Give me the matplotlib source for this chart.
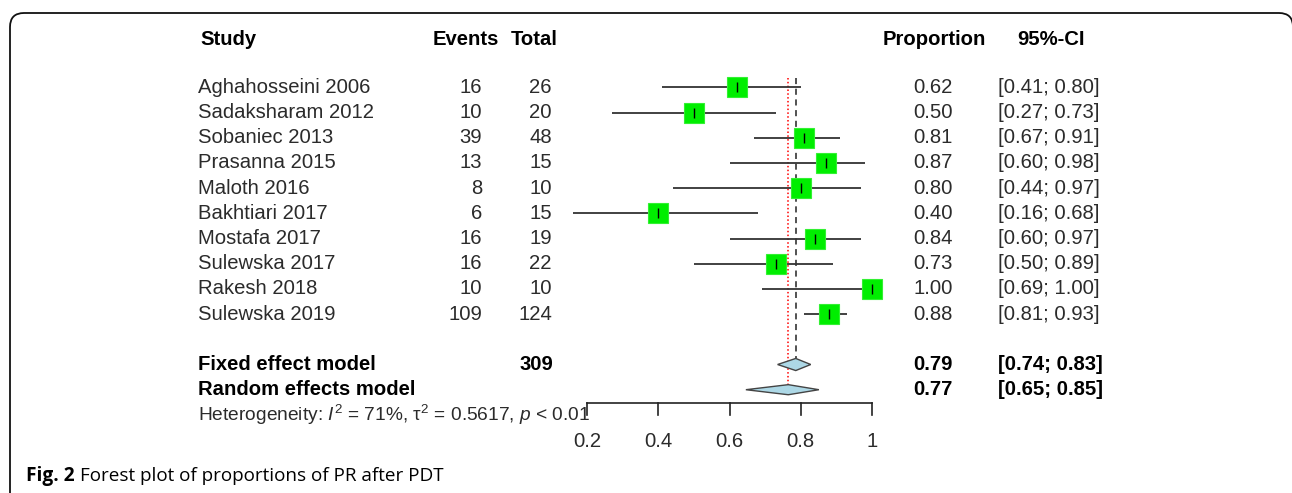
import matplotlib.pyplot as plt
from matplotlib.patches import Polygon, FancyBboxPatch
from matplotlib.transforms import blended_transform_factory

plt.rcParams['font.family'] = ['Liberation Sans', 'DejaVu Sans']
plt.rcParams['mathtext.fontset'] = 'custom'
plt.rcParams['mathtext.rm'] = 'Liberation Sans'
plt.rcParams['mathtext.it'] = 'Liberation Sans:italic'

# study data
studies = ['Aghahosseini 2006', 'Sadaksharam 2012', 'Sobaniec 2013', 'Prasanna 2015',
           'Maloth 2016', 'Bakhtiari 2017', 'Mostafa 2017', 'Sulewska 2017',
           'Rakesh 2018', 'Sulewska 2019']
events = [16, 10, 39, 13, 8, 6, 16, 16, 10, 109]
totals = [26, 20, 48, 15, 10, 15, 19, 22, 10, 124]
prop = [0.62, 0.50, 0.81, 0.87, 0.80, 0.40, 0.84, 0.73, 1.00, 0.88]
lower = [0.41, 0.27, 0.67, 0.60, 0.44, 0.16, 0.60, 0.50, 0.69, 0.81]
upper = [0.80, 0.73, 0.91, 0.98, 0.97, 0.68, 0.97, 0.89, 1.00, 0.93]

fixed_est, fixed_lo, fixed_hi = 0.786, 0.735, 0.828
random_est, random_lo, random_hi = 0.765, 0.646, 0.851
fixed_label = ['0.79', '[0.74; 0.83]']
random_label = ['0.77', '[0.65; 0.85]']
total_n = 309

ticks = [0.2, 0.4, 0.6, 0.8, 1.0]
tick_labels = ['0.2', '0.4', '0.6', '0.8', '1']
het_text = r'Heterogeneity: $I^2$ = 71%, $\mathrm{\tau}^2$ = 0.5617, $p$ < 0.01'

W, H = 1292, 493
fig = plt.figure(figsize=(W / 100, H / 100), dpi=100)
ax = fig.add_axes([0, 0, 1, 1])
ax.axis('off')
# proportion 0.2 sits at 587 px, 1.0 at 872 px; rows are 25.2 px apart starting at 87.3 px
scale = 356.25
ax.set_xlim(0.2 - 587 / scale, 0.2 + (W - 587) / scale)
ax.set_ylim((H - 87.3) / 25.2, -87.3 / 25.2)

tr = blended_transform_factory(fig.transFigure, ax.transData)
def px(p):
    return p / W

fs = 14.6
dark = '#2b2b2b'

# headers
hy = -1.88
ax.text(px(200), hy, 'Study', transform=tr, ha='left', va='center', fontsize=fs, fontweight='bold')
ax.text(px(466), hy, 'Events', transform=tr, ha='center', va='center', fontsize=fs, fontweight='bold')
ax.text(px(534), hy, 'Total', transform=tr, ha='center', va='center', fontsize=fs, fontweight='bold')
ax.text(px(934), hy, 'Proportion', transform=tr, ha='center', va='center', fontsize=fs, fontweight='bold')
ax.text(px(1051), hy, '95%-CI', transform=tr, ha='center', va='center', fontsize=fs, fontweight='bold')

for i, name in enumerate(studies):
    ax.text(px(198), i, name, transform=tr, ha='left', va='center', fontsize=fs, color=dark)
    ax.text(px(482), i, str(events[i]), transform=tr, ha='right', va='center', fontsize=fs, color=dark)
    ax.text(px(552), i, str(totals[i]), transform=tr, ha='right', va='center', fontsize=fs, color=dark)
    ax.text(px(953), i, f'{prop[i]:.2f}', transform=tr, ha='right', va='center', fontsize=fs, color=dark)
    ax.text(px(998), i, f'[{lower[i]:.2f}; {upper[i]:.2f}]', transform=tr, ha='left', va='center',
            fontsize=fs, color=dark)
    ax.plot([lower[i], upper[i]], [i, i], color='#333333', lw=1.3, solid_capstyle='butt', zorder=2)

ax.plot(prop, range(len(prop)), 's', ms=13.8, mfc='#00ee00', mec='#33f033', mew=0.8, zorder=3)
ax.plot(prop, range(len(prop)), '|', ms=7, color='black', mew=1.0, zorder=4)

# pooled rows
yf, yr = 11, 12
ax.text(px(198), yf, 'Fixed effect model', transform=tr, ha='left', va='center', fontsize=fs, fontweight='bold')
ax.text(px(198), yr, 'Random effects model', transform=tr, ha='left', va='center', fontsize=fs, fontweight='bold')
ax.text(px(553), yf, str(total_n), transform=tr, ha='right', va='center', fontsize=fs, fontweight='bold')
for y, lab in [(yf, fixed_label), (yr, random_label)]:
    ax.text(px(953), y, lab[0], transform=tr, ha='right', va='center', fontsize=fs, fontweight='bold')
    ax.text(px(998), y, lab[1], transform=tr, ha='left', va='center', fontsize=fs, fontweight='bold')

ax.add_patch(Polygon([[fixed_lo, yf], [fixed_est, yf - 0.24], [fixed_hi, yf], [fixed_est, yf + 0.24]],
                     closed=True, fc='#add8e6', ec='#444444', lw=1.0, zorder=3))
ax.add_patch(Polygon([[random_lo, yr], [random_est, yr - 0.2], [random_hi, yr], [random_est, yr + 0.2]],
                     closed=True, fc='#add8e6', ec='#444444', lw=1.0, zorder=3))

# reference lines
ax.plot([fixed_est, fixed_est], [-0.37, yf - 0.24], color='#222222', lw=1.1, ls=(0, (4, 3)), zorder=1)
ax.plot([random_est, random_est], [-0.37, yr - 0.2], color='red', lw=1.1, ls=(0, (1, 1.5)), zorder=1)

# x axis
ya = 12.52
ax.plot([ticks[0], ticks[-1]], [ya, ya], color='#222222', lw=1.2)
for t, lab in zip(ticks, tick_labels):
    ax.plot([t, t], [ya, 13.0], color='#222222', lw=1.2)
    ax.text(t, 14.06, lab, ha='center', va='center', fontsize=fs, color=dark)

ax.text(px(198), 13.0, het_text, transform=tr, ha='left', va='center', fontsize=13.8, color=dark)

# frame and caption
frame = FancyBboxPatch((10 / 100, -0.3), (W + 1 - 10) / 100, (H - 13) / 100 + 0.3,
                       boxstyle='round,pad=0,rounding_size=0.14', transform=fig.dpi_scale_trans,
                       fc='none', ec='#111111', lw=1.3, clip_on=False)
fig.patches.append(frame)

cap_y = 1 - 476 / H
t1 = fig.text(26 / W, cap_y, 'Fig. 2', fontfamily='Open Sans', fontweight='bold', fontsize=13.8,
              va='center', ha='left')
fig.canvas.draw()
bb = t1.get_window_extent()
fig.text((bb.x1 + 5) / W, cap_y, 'Forest plot of proportions of PR after PDT', fontfamily='Open Sans',
         fontsize=13.6, va='center', ha='left')

fig.savefig('out.png', dpi=100)
